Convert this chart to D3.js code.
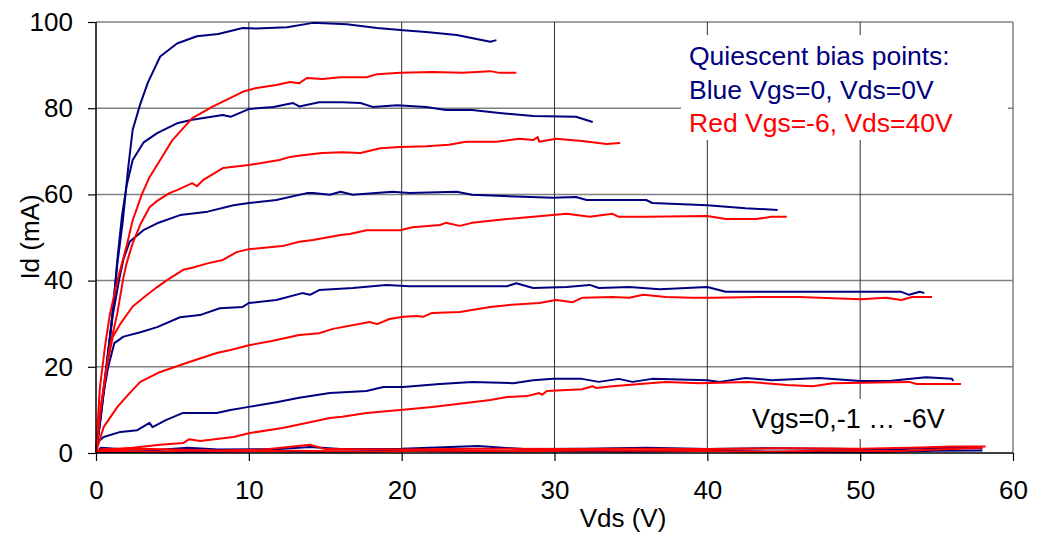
<!DOCTYPE html>
<html><head><meta charset="utf-8">
<script src="https://cdn.jsdelivr.net/npm/d3@7"></script>
<style>
html,body{margin:0;padding:0;background:#fff;}
svg{display:block;font-family:"Liberation Sans",Arial,sans-serif;}
</style></head>
<body><svg id="c" width="1037" height="536"></svg>
<script>
// ---- data: Id (mA) vs Vds (V) for Vgs = 0, -1 ... -6 V ----
const xTicks = [0,10,20,30,40,50,60];
const yTicks = [0,20,40,60,80,100];
const vgsLabels = ["0","-1","-2","-3","-4","-5","-6"];

// Blue: quiescent Vgs=0, Vds=0V
const blueVgs0 = [[0,0],[0.3,8],[0.7,20],[1.1,33],[1.4,44],[1.76,54],[2.1,66],[2.4,75],[2.9,81],[3.4,86],[4.2,92],[5.3,95],[6.6,96.7],[8,97.2],[9.6,98.6],[10.5,98.5],[12.5,98.8],[14.2,99.8],[16.4,99.5],[18.4,98.6],[20.1,98.1],[21.6,97.7],[23.6,97],[25.8,95.4],[26.2,95.8]];
const blueVgs1 = [[0,0],[0.3,8],[0.7,20],[1.1,33],[1.4,45],[1.7,55],[2.0,62],[2.4,68],[3.1,72],[4.0,74.2],[5.3,76.5],[6.3,77.3],[8.3,78.4],[8.8,78],[10,79.8],[11.6,80.3],[12.9,81.2],[13.3,80.4],[14.6,81.4],[16.1,81.4],[17.3,81.2],[18.1,80.3],[19.7,80.7],[21.6,80.3],[22.9,79.6],[24.6,79.6],[26.4,78.9],[28.6,78.2],[31.4,78],[32.5,76.8]];
const blueVgs2 = [[0,0],[0.3,9],[0.7,21],[1.1,32],[1.5,40],[1.8,45],[2.2,49],[3.1,51.7],[4,53.3],[5.5,55.2],[7.3,56],[9,57.5],[10,58],[11.8,58.7],[13.8,60.3],[14.2,60.3],[15.3,59.9],[16,60.6],[16.8,59.9],[19.4,60.6],[20.5,60.3],[23.6,60.6],[24.6,59.9],[29.9,59.2],[31.4,59.4],[32.1,58.7],[34.2,58.7],[36,58.7],[36.4,58],[40,57.5],[42.5,56.8],[44.6,56.4]];
const blueVgs3 = [[0,0],[0.4,12],[0.8,20],[1.2,25.5],[1.8,27],[2.9,28],[4,29.2],[5.5,31.5],[6.8,32],[8.1,33.6],[9.6,33.9],[10,34.8],[11.8,35.5],[13.5,37.1],[14,36.7],[14.6,37.8],[16.8,38.3],[19,39],[20.5,38.7],[23.8,38.7],[26.9,38.7],[27.5,39.4],[28.6,38.3],[30.8,38.5],[32.3,39],[32.9,38.3],[34.9,38.5],[36.9,38],[40,38.5],[41.2,37.4],[43.9,37.4],[49.1,37.4],[52.7,37.4],[53.2,36.7],[53.9,37.4],[54.2,37.1]];
const blueVgs4 = [[0,0],[0.1,2.5],[0.5,3.7],[1.6,4.9],[2.7,5.3],[3.5,7],[3.7,6],[4.6,7.7],[5.7,9.3],[7.9,9.3],[8.8,10],[10,10.7],[11.8,11.8],[13.3,12.8],[15.3,13.9],[17.7,14.4],[18.8,15.3],[20.1,15.3],[22.5,16],[24.6,16.5],[27.3,16.2],[28.6,16.9],[29.9,17.2],[31.8,17.2],[32.9,16.5],[34.2,17.2],[35.1,16.5],[36.4,17.2],[40,16.9],[40.8,16.5],[42.5,17.4],[44.2,16.9],[47.3,17.4],[50,16.7],[51.9,16.7],[54.3,17.6],[56,17.2],[56.1,16.7]];
const blueVgs5 = [[0,0],[0.3,1.2],[2,0.8],[4,0.7],[6,1.2],[8,0.8],[12,0.9],[14,1.4],[16,0.9],[20,1.0],[25,1.6],[28,0.9],[32,1.0],[36,1.2],[40,0.9],[44,1.1],[48,1.0],[52,0.8],[55,1.2],[58,1.1]];
const blueVgs6 = [[0,0],[0.2,0.3],[5,0.2],[10,0.4],[15,0.3],[20,0.5],[25,0.3],[30,0.4],[35,0.3],[40,0.5],[45,0.3],[50,0.2],[55,0.5],[58,0.6]];

// Red: quiescent Vgs=-6, Vds=40V
const redVgs0 = [[0,0],[0.25,15],[0.6,25],[0.9,32],[1.4,40],[2.0,48],[2.4,54],[3.0,60],[3.5,64],[4.2,68],[5,72.6],[6.3,77.7],[7.6,80.3],[8.8,82.4],[9.6,83.8],[10.5,84.7],[11.8,85.4],[12.7,86.1],[13.3,85.8],[13.8,87],[14.8,86.8],[16,87.2],[17.7,87.2],[18.4,87.9],[19.9,88.2],[22,88.4],[24,88.2],[25.8,88.6],[26.4,88.2],[27.5,88.2]];
const redVgs1 = [[0,0],[0.2,8],[0.5,15],[0.9,24.6],[1.4,32.5],[1.8,40.8],[2.0,44],[2.4,48.7],[2.9,53],[3.5,57],[4.0,58.5],[4.8,60.3],[5.3,61],[6.3,62.6],[6.6,61.9],[7.0,63.3],[8.3,66.1],[10,66.8],[12,68],[12.7,68.7],[13.5,69.1],[14.8,69.6],[16.1,69.8],[17.3,69.6],[18.6,70.7],[19.9,71],[21.6,71.2],[23.1,71.5],[24.2,72.2],[26.2,72.2],[27.7,72.9],[28.6,72.6],[28.9,73.3],[29,72.2],[30.1,72.9],[31.8,72.4],[33.4,71.7],[34.3,71.9]];
const redVgs2 = [[0,0],[0.3,10],[0.7,20],[1.1,27],[1.6,30],[2.4,34],[3.1,36],[4,38.5],[4.6,40],[5.7,42.5],[6.3,43],[7.3,44],[8.3,44.8],[9.2,46.6],[10,47.3],[12.2,48],[13.3,49],[14.2,49.4],[16,50.6],[16.6,50.8],[17.7,51.7],[19.9,51.7],[20.7,52.4],[22.5,52.9],[22.9,53.4],[23.8,52.7],[24.6,53.4],[26.9,54.3],[28.6,54.8],[30.8,55.5],[32.3,54.8],[33.8,55.5],[34.2,54.8],[36,54.8],[40,55],[41.2,54.3],[43.2,54.3],[44.2,54.8],[45.2,54.8]];
const redVgs3 = [[0,0],[0.1,1.4],[0.5,6],[1.4,10.7],[2.2,13.9],[2.9,16.5],[4.2,18.8],[6.1,21.1],[7.9,23.2],[8.8,23.9],[10,25],[11.5,26],[13.3,27.4],[14.6,27.8],[15.5,28.8],[17.9,30.4],[18.4,29.9],[19.2,31.1],[20.1,31.6],[21,31.8],[21.4,31.6],[22,32.5],[23.8,32.7],[25.8,33.9],[26.9,34.3],[29,34.8],[30.1,35.5],[31.2,35],[31.8,36],[33.8,36.2],[34.9,36],[35.8,36.7],[37.3,36.2],[39,36],[40.3,36],[43.4,36.2],[46,36.2],[50,35.7],[51.7,36],[52.7,35.5],[53.4,36.2],[54.7,36.2]];
const redVgs4 = [[0,0],[0.1,0.7],[2.4,1.2],[4.2,1.9],[5.7,2.3],[6.1,3.2],[6.8,2.8],[9,3.7],[10,4.6],[12.2,5.8],[13.3,6.6],[15.3,8.1],[16.1,8.4],[17.7,9.3],[19.9,10],[22,10.7],[24.2,11.6],[25.8,12.3],[26.9,13],[28.2,13.2],[29,13.9],[29.2,13.5],[29.5,14.4],[31.8,14.8],[32.5,15.5],[32.7,15.1],[33.8,15.5],[36.2,16.2],[37.3,16.5],[39.5,16.2],[42.7,16.5],[45.2,15.8],[46.9,15.5],[48.2,16.2],[53.2,16.5],[53.7,16],[56.6,16]];
const redVgs5 = [[0,0],[0.3,0.8],[3,1.0],[5,0.8],[8,0.6],[11,0.8],[14,1.9],[15,0.9],[20,0.8],[25,1.0],[30,0.9],[35,1.0],[40,0.9],[45,1.1],[50,1.0],[54,1.3],[56,1.5],[58.2,1.5]];
const redVgs6 = [[0,0],[0.3,0.5],[4,0.3],[6,0.6],[9,0.4],[13,0.5],[18,0.3],[22,0.6],[27,0.4],[32,0.6],[38,0.5],[44,0.3],[48,0.6],[52,0.4],[56,0.9],[58,1.2]];

const blueSeries = [blueVgs0,blueVgs1,blueVgs2,blueVgs3,blueVgs4,blueVgs5,blueVgs6];
const redSeries = [redVgs0,redVgs1,redVgs2,redVgs3,redVgs4,redVgs5,redVgs6];

const legendLines = ["Quiescent bias points:","Blue Vgs=0, Vds=0V","Red Vgs=-6, Vds=40V"];
const annotation = "Vgs=0,-1 \u2026 -6V";

// ---- drawing ----
const svg = d3.select("#c");
const L = 96, R = 1013, T = 22, B = 453;
const x = d3.scaleLinear().domain([0,60]).range([L,R]);
const y = d3.scaleLinear().domain([0,100]).range([B,T]);
const FONT = 26;

// horizontal gridlines
svg.append("g").selectAll("line").data(yTicks.filter(d=>d>0)).join("line")
  .attr("x1",L).attr("x2",R).attr("y1",d=>y(d)).attr("y2",d=>y(d))
  .attr("stroke","#808080").attr("stroke-width",1.5);
// vertical gridlines
svg.append("g").selectAll("line").data(xTicks.filter(d=>d>0 && d<60)).join("line")
  .attr("x1",d=>x(d)).attr("x2",d=>x(d)).attr("y1",T).attr("y2",B)
  .attr("stroke","#303030").attr("stroke-width",1);
// right border
svg.append("line").attr("x1",R).attr("x2",R).attr("y1",T).attr("y2",B)
  .attr("stroke","#808080").attr("stroke-width",1.5);

// white boxes behind text (break gridlines)
svg.append("rect").attr("x",681).attr("y",35).attr("width",327).attr("height",105).attr("fill","#fff");
svg.append("rect").attr("x",746).attr("y",399).attr("width",206).attr("height",40).attr("fill","#fff");

// series
const line = d3.line().x(d=>x(d[0])).y(d=>y(d[1]));
svg.append("g").selectAll("path").data(blueSeries).join("path")
  .attr("d",line).attr("fill","none").attr("stroke","#000080").attr("stroke-width",2).attr("stroke-linejoin","round");
svg.append("g").selectAll("path").data(redSeries).join("path")
  .attr("d",line).attr("fill","none").attr("stroke","#ff0000").attr("stroke-width",2).attr("stroke-linejoin","round");

// axes
const yAxis = d3.axisLeft(y).tickValues(yTicks).tickSize(8).tickPadding(15).tickFormat(d3.format("d"));
const gy = svg.append("g").attr("transform",`translate(${L},0)`).call(yAxis);
const xAxis = d3.axisBottom(x).tickValues(xTicks).tickSize(8).tickPadding(20).tickFormat(d3.format("d"));
const gx = svg.append("g").attr("transform",`translate(0,${B})`).call(xAxis);
[gy,gx].forEach(g=>{
  g.select(".domain").attr("stroke","#000").attr("stroke-width",1.5);
  g.selectAll(".tick line").attr("stroke","#000").attr("stroke-width",1.2);
  g.selectAll(".tick text").attr("font-size",FONT).attr("fill","#000")
   .attr("font-family","'Liberation Sans',Arial,sans-serif");
});
gx.select(".domain").attr("d",`M${L},0H${R}`);
gy.select(".domain").attr("d",`M0,${B}V${T}`);

// axis titles
svg.append("text").attr("x",623).attr("y",527).attr("text-anchor","middle")
  .attr("font-size",FONT).text("Vds (V)");
svg.append("text").attr("transform","translate(39,237) rotate(-90)").attr("text-anchor","middle")
  .attr("font-size",FONT).text("Id (mA)");

// legend text
const legendColors = ["#000080","#000080","#ff0000"];
svg.append("g").selectAll("text").data(legendLines).join("text")
  .attr("x",689).attr("y",(d,i)=>65+i*33.5).attr("font-size",26.5)
  .attr("fill",(d,i)=>legendColors[i]).text(d=>d);

// annotation
svg.append("text").attr("x",752).attr("y",428).attr("font-size",27).attr("fill","#000").text(annotation);
</script></body></html>
